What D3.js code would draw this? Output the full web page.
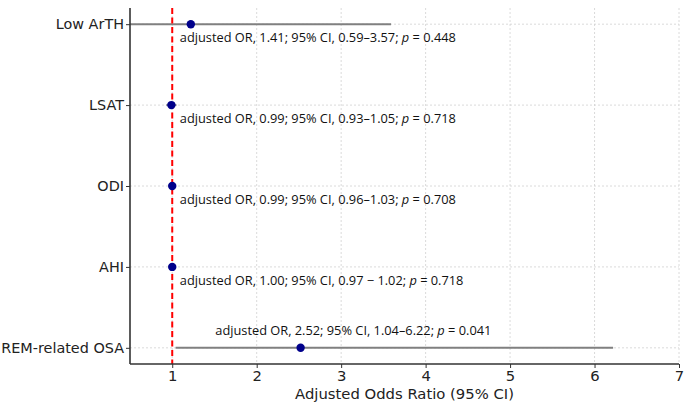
<!DOCTYPE html>
<html>
<head>
<meta charset="utf-8">
<script src="https://cdn.jsdelivr.net/npm/d3@7"></script>
<style>
  body { margin: 0; background: #fff; }
  svg { display: block; }
  .tick text { font-family: "DejaVu Sans", sans-serif; }
</style>
</head>
<body>
<svg id="forest" width="685" height="404"></svg>
<script>
// data
var labels = ["Low ArTH", "LSAT", "ODI", "AHI", "REM-related OSA"];
var estimates = [1.22, 0.99, 1.00, 1.00, 2.52];
var lowers = [0.45, 0.93, 0.96, 0.97, 1.04];
var uppers = [3.59, 1.05, 1.03, 1.02, 6.22];
var annotText = [
    "adjusted OR, 1.41; 95% CI, 0.59\u20133.57; ",
    "adjusted OR, 0.99; 95% CI, 0.93\u20131.05; ",
    "adjusted OR, 0.99; 95% CI, 0.96\u20131.03; ",
    "adjusted OR, 1.00; 95% CI, 0.97 \u2212 1.02; ",
    "adjusted OR, 2.52; 95% CI, 1.04\u20136.22; "
];
var annotP = ["0.448", "0.718", "0.708", "0.718", "0.041"];
var xTicks = [1, 2, 3, 4, 5, 6, 7];
var refLine = 1;

function build_forest() {
    var svg = d3.select("#forest");
    const margins = {top: 8, right: 6, bottom: 40, left: 130};
    var width = 685, height = 404;

    var xScale = d3.scaleLinear()
        .domain([0.5, 7])
        .range([margins.left, 679]);
    var yScale = d3.scaleLinear()
        .domain([-0.2, labels.length - 0.8])
        .range([margins.top, height - margins.bottom]);

    svg.append("clipPath").attr("id", "plotclip")
        .append("rect")
        .attr("x", margins.left).attr("y", margins.top)
        .attr("width", 679 - margins.left)
        .attr("height", height - margins.bottom - margins.top);

    // grid
    var grid = svg.append("g").attr("class", "grid");
    grid.selectAll("line.vgrid").data(xTicks).enter()
        .append("line").classed("vgrid", true)
        .attr("x1", d => xScale(d)).attr("x2", d => xScale(d))
        .attr("y1", margins.top).attr("y2", height - margins.bottom)
        .attr("stroke", "#d0d0d0").attr("stroke-width", 0.8)
        .attr("stroke-dasharray", "2,2");
    grid.selectAll("line.hgrid").data(labels).enter()
        .append("line").classed("hgrid", true)
        .attr("x1", margins.left).attr("x2", 679)
        .attr("y1", (d, i) => yScale(i)).attr("y2", (d, i) => yScale(i))
        .attr("stroke", "#d0d0d0").attr("stroke-width", 0.8)
        .attr("stroke-dasharray", "2,2");

    var plot = svg.append("g").attr("clip-path", "url(#plotclip)");

    // CI lines
    plot.selectAll("line.ci").data(labels).enter()
        .append("line").classed("ci", true)
        .attr("x1", (d, i) => xScale(lowers[i]))
        .attr("x2", (d, i) => xScale(uppers[i]))
        .attr("y1", (d, i) => yScale(i)).attr("y2", (d, i) => yScale(i))
        .attr("stroke", "#808080").attr("stroke-width", 2);

    // reference line at OR = 1
    plot.append("line")
        .attr("x1", xScale(refLine)).attr("x2", xScale(refLine))
        .attr("y1", margins.top).attr("y2", height - margins.bottom)
        .attr("stroke", "#ff0000").attr("stroke-width", 2)
        .attr("stroke-dasharray", "6,3.5");

    // points
    plot.selectAll("circle.est").data(labels).enter()
        .append("circle").classed("est", true)
        .attr("cx", (d, i) => xScale(estimates[i]))
        .attr("cy", (d, i) => yScale(i))
        .attr("r", 4.2)
        .attr("fill", "#00008b");

    // annotations
    var annots = svg.selectAll("text.annot").data(labels).enter()
        .append("text").classed("annot", true)
        .attr("x", (d, i) => i == labels.length - 1 ? xScale(1.51) : xScale(1.09))
        .attr("y", (d, i) => i == labels.length - 1 ? yScale(i) - 13 : yScale(i) + 18)
        .attr("font-family", "'Open Sans', sans-serif")
        .attr("font-size", 12.8)
        .attr("fill", "#111");
    annots.append("tspan").text((d, i) => annotText[i]);
    annots.append("tspan").attr("font-style", "italic").text("p");
    annots.append("tspan").text((d, i) => " = " + annotP[i]);

    // axes
    var xAxis = svg.append("g")
        .attr("transform", "translate(0," + (height - margins.bottom) + ")")
        .call(d3.axisBottom(xScale).tickValues(xTicks).tickFormat(d3.format("d")).tickSize(4).tickPadding(2));
    var yAxis = svg.append("g")
        .attr("transform", "translate(" + margins.left + ",0)")
        .call(d3.axisLeft(yScale).tickValues(d3.range(labels.length)).tickFormat(i => labels[i]).tickSize(4).tickPadding(2));

    [xAxis, yAxis].forEach(function(ax) {
        ax.select(".domain").attr("stroke", "#333").attr("stroke-width", 1.6);
        ax.selectAll(".tick line").attr("stroke", "#333").attr("stroke-width", 1);
        ax.selectAll(".tick text").attr("fill", "#222");
    });
    xAxis.selectAll(".tick text").attr("font-size", 14.8);
    yAxis.selectAll(".tick text").attr("font-size", 14.4);
    // plain spines, no end caps
    xAxis.select(".domain").attr("d", "M" + margins.left + ",0H679");
    yAxis.select(".domain").attr("d", "M0," + margins.top + "V" + (height - margins.bottom));

    svg.append("text")
        .attr("x", (margins.left + 679) / 2)
        .attr("y", 399)
        .attr("text-anchor", "middle")
        .attr("font-family", "'DejaVu Sans', sans-serif")
        .attr("font-size", 14.8)
        .attr("fill", "#222")
        .text("Adjusted Odds Ratio (95% CI)");
}

build_forest();
</script>
</body>
</html>
